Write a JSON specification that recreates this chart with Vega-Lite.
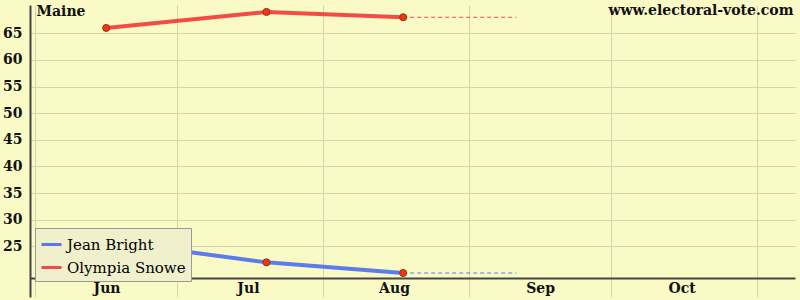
{
  "$schema": "https://vega.github.io/schema/vega-lite/v6.json",
  "autosize": {"type": "none"},
  "width": 765,
  "height": 292,
  "padding": {"left": 30, "top": 5, "right": 5, "bottom": 3},
  "background": "#fafac6",
  "config": {
    "view": {"stroke": null},
    "font": "DejaVu Serif",
    "axis": {"gridColor": "#d4d4ae", "gridWidth": 1, "ticks": false, "domainColor": "#444444", "domainWidth": 2,
             "labelFont": "DejaVu Serif", "labelFontWeight": "bold", "labelFontSize": 14, "labelColor": "#111111", "labelOverlap": false}
  },
  "data": {"values": [
      {"date": "2006-06-16", "candidate": "Jean Bright", "pct": 26, "kind": "poll"},
      {"date": "2006-07-20", "candidate": "Jean Bright", "pct": 22, "kind": "poll"},
      {"date": "2006-08-18", "candidate": "Jean Bright", "pct": 20, "kind": "poll"},
      {"date": "2006-06-16", "candidate": "Olympia Snowe", "pct": 66, "kind": "poll"},
      {"date": "2006-07-20", "candidate": "Olympia Snowe", "pct": 69, "kind": "poll"},
      {"date": "2006-08-18", "candidate": "Olympia Snowe", "pct": 68, "kind": "poll"},
      {"date": "2006-08-18", "candidate": "Jean Bright", "pct": 20, "kind": "proj"},
      {"date": "2006-09-11", "candidate": "Jean Bright", "pct": 20, "kind": "proj"},
      {"date": "2006-08-18", "candidate": "Olympia Snowe", "pct": 68, "kind": "proj"},
      {"date": "2006-09-11", "candidate": "Olympia Snowe", "pct": 68, "kind": "proj"}
  ]},
  "encoding": {
    "x": {"field": "date", "type": "temporal",
          "scale": {"type": "utc", "domain": ["2006-05-30T20:00:00Z", "2006-11-09T03:00:00Z"]},
          "axis": {"orient": "bottom", "offset": -19, "grid": true, "labelOffset": 71, "labelPadding": 3,
                   "values": ["2006-06-01T00:00:00Z", "2006-07-01T00:00:00Z", "2006-08-01T00:00:00Z", "2006-09-01T00:00:00Z", "2006-10-01T00:00:00Z", "2006-11-01T00:00:00Z"],
                   "labelExpr": "utcmonth(datum.value) == 10 ? '' : utcFormat(datum.value, '%b')",
                   "title": "www.electoral-vote.com", "titleAngle": 0, "titleAlign": "right", "titleBaseline": "alphabetic", "titleX": 763, "titleY": -264,
                   "titleFont": "DejaVu Serif", "titleFontSize": 14, "titleFontWeight": "bold", "titleColor": "#111111"}},
    "y": {"field": "pct", "type": "quantitative",
          "scale": {"domain": [15.5, 70.3], "nice": false, "zero": false},
          "axis": {"grid": true, "values": [25, 30, 35, 40, 45, 50, 55, 60, 65], "labelPadding": 8,
                   "title": "Maine", "titleAngle": 0, "titleAlign": "left", "titleBaseline": "alphabetic", "titleX": 6, "titleY": 10,
                   "titleFont": "DejaVu Serif", "titleFontSize": 14, "titleFontWeight": "bold", "titleColor": "#111111"}}
  },
  "layer": [
    {
      "transform": [{"filter": "datum.kind == 'proj'"}],
      "mark": {"type": "line", "strokeWidth": 1, "strokeDash": [4, 3], "opacity": 0.9},
      "encoding": {
        "color": {"field": "candidate", "type": "nominal",
                  "scale": {"domain": ["Jean Bright", "Olympia Snowe"], "range": ["#4a6ef0", "#f23838"]},
                  "legend": {"orient": "none", "legendX": 5, "legendY": 223, "title": null,
                             "fillColor": "#f0f0cc", "strokeColor": "#999999", "padding": 5,
                             "symbolType": "stroke", "symbolStrokeWidth": 3, "symbolSize": 400,
                             "labelFont": "DejaVu Serif", "labelFontSize": 15, "rowPadding": 3,
                             "encode": {"labels": {"update": {"fill": {"signal": "datum.value == 'Jean Bright' ? '#4a6ef0' : '#f03030'"}}}}}}
      }
    },
    {
      "transform": [{"filter": "datum.kind == 'poll'"}],
      "mark": {"type": "line", "strokeWidth": 4, "opacity": 0.9},
      "encoding": {
        "color": {"field": "candidate", "type": "nominal"}
      }
    },
    {
      "transform": [{"filter": "datum.kind == 'poll'"}],
      "mark": {"type": "point", "filled": true, "size": 50, "fill": "#ea3a12", "stroke": "#a02a10", "strokeWidth": 1, "opacity": 1}
    }
  ]
}
